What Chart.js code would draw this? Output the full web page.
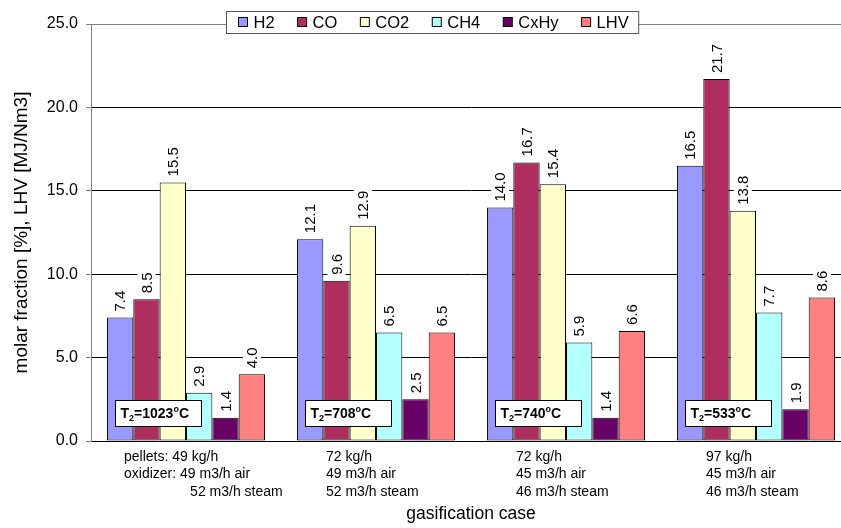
<!DOCTYPE html>
<html>
<head>
<meta charset="utf-8">
<title>Gasification cases</title>
<script src="https://cdn.jsdelivr.net/npm/chart.js@4/dist/chart.umd.min.js"></script>
<style>
	html, body { margin: 0; padding: 0; background: #fff; overflow: hidden; }
	#wrap { width: 852px; height: 528px; position: relative; }
</style>
</head>
<body>
<div id="wrap"><canvas id="gas-chart"></canvas></div>
<script>
( function() {
	'use strict';

	// Values.
	var cases = [ 'case 1', 'case 2', 'case 3', 'case 4' ];
	var h2 = [ 7.4, 12.1, 14.0, 16.5 ];
	var co = [ 8.5, 9.6, 16.7, 21.7 ];
	var co2 = [ 15.5, 12.9, 15.4, 13.8 ];
	var ch4 = [ 2.9, 6.5, 5.9, 7.7 ];
	var cxhy = [ 1.4, 2.5, 1.4, 1.9 ];
	var lhv = [ 4.0, 6.5, 6.6, 8.6 ];
	var temps = [ '1023', '708', '740', '533' ];
	var caseLines = [
		[ 'pellets: 49 kg/h', 'oxidizer: 49 m3/h air', '                 52 m3/h steam' ],
		[ '72 kg/h', '49 m3/h air', '52 m3/h steam' ],
		[ '72 kg/h', '45 m3/h air', '46 m3/h steam' ],
		[ '97 kg/h', '45 m3/h air', '46 m3/h steam' ]
	];
	var yTicks = [ 0, 5, 10, 15, 20, 25 ];

	var FONT = '"Liberation Sans", Arial, sans-serif';

	var series = [
		{ label: 'H2', data: h2, color: '#9999FF' },
		{ label: 'CO', data: co, color: '#AF2E60' },
		{ label: 'CO2', data: co2, color: '#FFFFCC' },
		{ label: 'CH4', data: ch4, color: '#B4FFFF' },
		{ label: 'CxHy', data: cxhy, color: '#680066' },
		{ label: 'LHV', data: lhv, color: '#FF8080' }
	];

	/**
	 * Rotated value labels on a white patch above each bar.
	 */
	var valueLabels = {
		id: 'valueLabels',
		afterDatasetsDraw: function( chart ) {
			var ctx = chart.ctx;
			ctx.save();
			ctx.font = '15px ' + FONT;
			ctx.textAlign = 'left';
			ctx.textBaseline = 'middle';
			chart.data.datasets.forEach( function( ds, i ) {
				chart.getDatasetMeta( i ).data.forEach( function( bar, j ) {
					var txt = ds.data[ j ].toFixed( 1 );
					var w = ctx.measureText( txt ).width;
					ctx.save();
					ctx.translate( bar.x, bar.y - 6 );
					ctx.rotate( -Math.PI / 2 );
					ctx.fillStyle = '#fff';
					ctx.fillRect( -1, -9, w + 2, 18 );
					ctx.fillStyle = '#000';
					ctx.fillText( txt, 0, 1 );
					ctx.restore();
				} );
			} );
			ctx.restore();
		}
	};

	/**
	 * Temperature boxes, legend and case descriptions.
	 */
	var decorations = {
		id: 'decorations',
		afterDraw: function( chart ) {
			var ctx = chart.ctx;
			var x = chart.scales.x;
			var y = chart.scales.y;
			var area = chart.chartArea;

			ctx.save();

			// T2 boxes
			temps.forEach( function( t, i ) {
				var cx = x.getPixelForValue( i ) - 28;
				var top = y.getPixelForValue( 2.45 );
				var bottom = y.getPixelForValue( 0.9 );
				var left = Math.round( cx - 43 ) + 0.5;
				ctx.fillStyle = '#fff';
				ctx.fillRect( left, Math.round( top ) + 0.5, 86, Math.round( bottom - top ) );
				ctx.strokeStyle = '#000';
				ctx.lineWidth = 1;
				ctx.strokeRect( left, Math.round( top ) + 0.5, 86, Math.round( bottom - top ) );

				var base = ( top + bottom ) / 2 + 5;
				var tx = left + 5;
				ctx.fillStyle = '#000';
				ctx.textAlign = 'left';
				ctx.textBaseline = 'alphabetic';
				ctx.font = 'bold 14px ' + FONT;
				ctx.fillText( 'T', tx, base );
				tx += ctx.measureText( 'T' ).width;
				ctx.font = 'bold 9px ' + FONT;
				ctx.fillText( '2', tx, base + 3 );
				tx += ctx.measureText( '2' ).width;
				ctx.font = 'bold 14px ' + FONT;
				ctx.fillText( '=' + t, tx, base );
				tx += ctx.measureText( '=' + t ).width;
				ctx.font = 'bold 9px ' + FONT;
				ctx.fillText( 'o', tx, base - 6 );
				tx += ctx.measureText( 'o' ).width;
				ctx.font = 'bold 14px ' + FONT;
				ctx.fillText( 'C', tx, base );
			} );

			// case descriptions under the axis
			ctx.font = '14px ' + FONT;
			ctx.fillStyle = '#000';
			ctx.textAlign = 'left';
			ctx.textBaseline = 'middle';
			caseLines.forEach( function( lines, i ) {
				var lx = x.getPixelForValue( i ) - ( i === 0 ? 62 : 50 );
				lines.forEach( function( line, k ) {
					ctx.fillText( line, lx, area.bottom + 16 + k * 17.5 );
				} );
			} );

			// legend overlapping the top of the plot
			ctx.font = '16.5px ' + FONT;
			var items = chart.data.datasets;
			var total = 0;
			items.forEach( function( ds, i ) {
				total += 15 + ctx.measureText( ds.label ).width + ( i < items.length - 1 ? 23 : 0 );
			} );
			var boxW = total + 22;
			var boxL = Math.round( 432 - boxW / 2 ) + 0.5;
			var boxT = area.top - 12.5;
			ctx.fillStyle = '#fff';
			ctx.fillRect( boxL, boxT, boxW, 22 );
			ctx.strokeStyle = '#555';
			ctx.strokeRect( boxL, boxT, boxW, 22 );
			var px = boxL + 12;
			items.forEach( function( ds ) {
				ctx.fillStyle = ds.backgroundColor;
				ctx.fillRect( px, boxT + 6, 9, 9 );
				ctx.strokeStyle = '#000';
				ctx.strokeRect( px, boxT + 6, 9, 9 );
				ctx.fillStyle = '#000';
				ctx.fillText( ds.label, px + 15, boxT + 11.5 );
				px += 15 + ctx.measureText( ds.label ).width + 23;
			} );

			ctx.restore();
		}
	};

	var canvas = document.getElementById( 'gas-chart' );

	new Chart( canvas, {
		type: 'bar',
		data: {
			labels: cases,
			datasets: series.map( function( s ) {
				return {
					label: s.label,
					data: s.data,
					backgroundColor: s.color,
					borderColor: '#000',
					borderWidth: 1,
					borderSkipped: false,
					categoryPercentage: 0.832,
					barPercentage: 1
				};
			} )
		},
		options: {
			responsive: true,
			maintainAspectRatio: false,
			animation: false,
			devicePixelRatio: 1,
			layout: { padding: { left: 0, right: 1, top: 24, bottom: 0 } },
			plugins: {
				legend: { display: false },
				tooltip: { enabled: false }
			},
			scales: {
				x: {
					grid: { display: false },
					border: { display: true, color: '#000', width: 1 },
					ticks: { display: false },
					title: {
						display: true,
						text: 'gasification case',
						color: '#000',
						font: { family: FONT, size: 17.5 },
						padding: { top: 0, bottom: 3 }
					},
					afterFit: function( scale ) {
						scale.height = 87;
					}
				},
				y: {
					min: yTicks[ 0 ],
					max: yTicks[ yTicks.length - 1 ],
					afterBuildTicks: function( scale ) {
						scale.ticks = yTicks.map( function( v ) {
							return { value: v };
						} );
					},
					ticks: {
						color: '#000',
						padding: 8,
						font: { family: FONT, size: 16 },
						callback: function( v ) {
							return Number( v ).toFixed( 1 );
						}
					},
					grid: {
						tickLength: 5,
						color: function( c ) {
							return c.tick && c.tick.value === 25 ? '#808080' : '#000';
						},
						tickColor: '#808080'
					},
					border: { color: '#808080', width: 1 },
					title: {
						display: true,
						text: 'molar fraction [%], LHV [MJ/Nm3]',
						color: '#000',
						font: { family: FONT, size: 19 },
						padding: { top: 10, bottom: 0 }
					},
					afterFit: function( scale ) {
						scale.width = 91;
					}
				}
			}
		},
		plugins: [ valueLabels, decorations ]
	} );
} )();
</script>
</body>
</html>
